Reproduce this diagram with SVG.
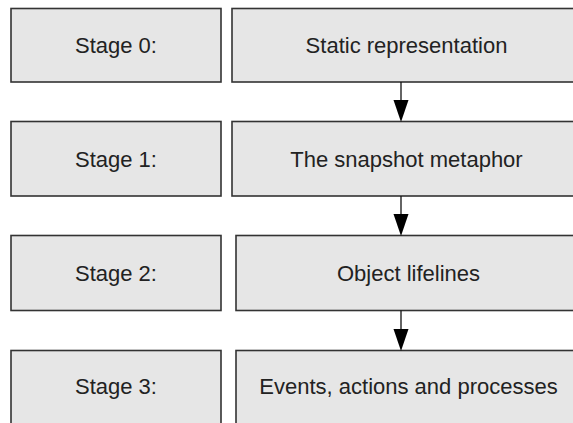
<svg xmlns="http://www.w3.org/2000/svg" width="573" height="423" viewBox="0 0 573 423">
<defs>
<style>
.box{fill:#e6e6e6;stroke:#333;stroke-width:1.6}
.lbl{font-family:"Liberation Sans",Arial,sans-serif;font-size:22px;fill:#222;text-anchor:middle}
.conn{stroke:#111;stroke-width:1.3;fill:none}
.head{fill:#000}
</style>
</defs>
<rect width="573" height="423" fill="#fff"/>
<g id="stage0">
<rect class="box" x="11" y="8.5" width="210" height="73.5"/>
<text class="lbl" x="116" y="53">Stage 0:</text>
</g>
<g id="static">
<rect class="box" x="232" y="8.5" width="350" height="73.5"/>
<text class="lbl" x="406.5" y="53">Static representation</text>
</g>
<g id="stage1">
<rect class="box" x="11" y="121.5" width="210" height="74.5"/>
<text class="lbl" x="116" y="166.5">Stage 1:</text>
</g>
<g id="snapshot">
<rect class="box" x="232" y="121.5" width="350" height="74.5"/>
<text class="lbl" x="406.5" y="166.5">The snapshot metaphor</text>
</g>
<g id="stage2">
<rect class="box" x="11" y="235.5" width="210" height="75"/>
<text class="lbl" x="116" y="281">Stage 2:</text>
</g>
<g id="lifelines">
<rect class="box" x="236" y="235.5" width="346" height="75"/>
<text class="lbl" x="408.5" y="281">Object lifelines</text>
</g>
<g id="stage3">
<rect class="box" x="11" y="350.5" width="210" height="74"/>
<text class="lbl" x="116" y="394">Stage 3:</text>
</g>
<g id="events">
<rect class="box" x="236" y="350.5" width="346" height="74"/>
<text class="lbl" x="408.5" y="394">Events, actions and processes</text>
</g>
<g id="connectors">
<line class="conn" x1="401" y1="82" x2="401" y2="101"/>
<polygon class="head" points="393.5,100 408.5,100 401,122"/>
<line class="conn" x1="401" y1="196" x2="401" y2="215"/>
<polygon class="head" points="393.5,214 408.5,214 401,236"/>
<line class="conn" x1="401" y1="310.5" x2="401" y2="330"/>
<polygon class="head" points="393.5,329 408.5,329 401,351"/>
</g>
</svg>
